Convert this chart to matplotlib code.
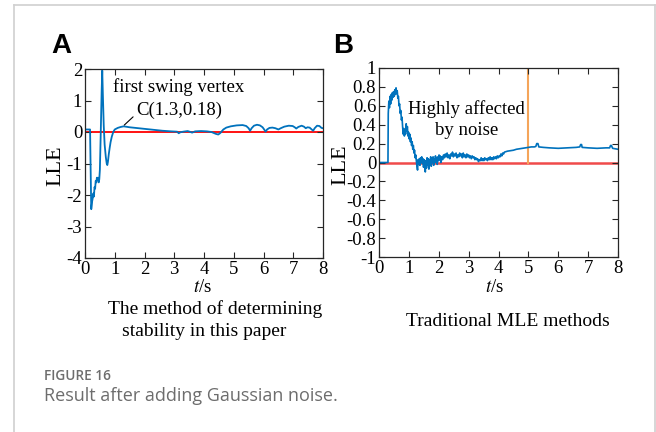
import matplotlib
matplotlib.use("Agg")
import matplotlib.pyplot as plt
from matplotlib.lines import Line2D

# ---- Panel A: proposed stability criterion (LLE vs time) ----
t_a = [0.00, 0.17, 0.19, 0.21, 0.24, 0.26, 0.28, 0.30, 0.32, 0.34, 0.36, 0.38,
       0.40, 0.42, 0.44, 0.46, 0.48, 0.50, 0.53, 0.56, 0.58, 0.60, 0.63, 0.66,
       0.70, 0.73, 0.75, 0.77, 0.80, 0.83, 0.86, 0.90, 0.95, 1.00, 1.10, 1.20,
       1.30, 1.50, 1.70, 2.00, 2.30, 2.60, 2.90, 3.10, 3.15, 3.20, 3.30, 3.45,
       3.55, 3.60, 3.70, 3.90, 4.10, 4.25, 4.40, 4.48, 4.55, 4.65, 4.75, 4.90,
       5.10, 5.30, 5.42, 5.50, 5.55, 5.60, 5.68, 5.78, 5.88, 5.97, 6.03, 6.07,
       6.12, 6.20, 6.30, 6.40, 6.50, 6.58, 6.70, 6.85, 6.98, 7.05, 7.10, 7.17,
       7.28, 7.36, 7.42, 7.48, 7.55, 7.62, 7.67, 7.72, 7.80, 7.88, 7.95, 8.00]
lle_a = [0.08, 0.08, -1.20, -2.45, -2.20, -2.10, -1.95, -2.05, -1.75, -1.80, -1.55, -1.60,
         -1.45, -1.50, -1.45, -1.60, -1.50, -1.20, 0.00, 1.30, 1.95, 1.20, 0.20, -0.40,
         -0.80, -1.00, -1.05, -0.95, -0.70, -0.50, -0.32, -0.15, 0.00, 0.08, 0.13, 0.16,
         0.18, 0.15, 0.13, 0.10, 0.07, 0.04, 0.02, 0.01, -0.04, -0.01, 0.01, 0.03,
         0.00, -0.02, 0.02, 0.03, 0.02, 0.00, -0.06, -0.08, -0.03, 0.08, 0.14, 0.18,
         0.21, 0.22, 0.19, 0.12, 0.04, 0.12, 0.20, 0.23, 0.21, 0.15, 0.07, 0.01,
         0.08, 0.13, 0.14, 0.12, 0.08, 0.12, 0.17, 0.20, 0.19, 0.15, 0.11, 0.16,
         0.20, 0.17, 0.12, 0.15, 0.14, 0.08, 0.04, 0.12, 0.20, 0.19, 0.13, 0.12]

# ---- Panel B: traditional maximum Lyapunov exponent ----
t_b = [0.00, 0.30, 0.31, 0.33, 0.35, 0.37, 0.39, 0.41, 0.43, 0.45, 0.47, 0.49,
       0.51, 0.53, 0.55, 0.57, 0.59, 0.61, 0.63, 0.65, 0.67, 0.69, 0.71, 0.73,
       0.75, 0.77, 0.79, 0.81, 0.83, 0.85, 0.87, 0.89, 0.91, 0.93, 0.95, 0.97,
       0.99, 1.01, 1.03, 1.05, 1.07, 1.09, 1.11, 1.13, 1.15, 1.17, 1.19, 1.21,
       1.23, 1.25, 1.27, 1.29, 1.31, 1.33, 1.35, 1.37, 1.39, 1.41, 1.43, 1.45,
       1.47, 1.49, 1.51, 1.53, 1.55, 1.57, 1.59, 1.61, 1.63, 1.65, 1.67, 1.69,
       1.71, 1.73, 1.75, 1.77, 1.79, 1.81, 1.83, 1.85, 1.87, 1.89, 1.91, 1.93,
       1.95, 1.97, 1.99, 2.01, 2.03, 2.05, 2.07, 2.10, 2.13, 2.16, 2.19, 2.22,
       2.25, 2.28, 2.31, 2.34, 2.37, 2.40, 2.43, 2.46, 2.49, 2.52, 2.55, 2.58,
       2.61, 2.64, 2.67, 2.70, 2.73, 2.76, 2.79, 2.82, 2.85, 2.88, 2.91, 2.94,
       2.97, 3.00, 3.03, 3.06, 3.09, 3.12, 3.15, 3.18, 3.21, 3.24, 3.27, 3.30,
       3.33, 3.36, 3.39, 3.42, 3.45, 3.48, 3.51, 3.54, 3.57, 3.60, 3.63, 3.66,
       3.69, 3.72, 3.75, 3.78, 3.81, 3.84, 3.87, 3.90, 3.93, 3.96, 3.99, 4.02,
       4.05, 4.08, 4.11, 4.14, 4.17, 4.20, 4.30, 4.40, 4.50, 4.60, 4.70, 4.80,
       4.90, 5.00, 5.10, 5.20, 5.25, 5.28, 5.32, 5.35, 5.50, 5.70, 6.00, 6.30,
       6.60, 6.72, 6.75, 6.78, 6.80, 7.00, 7.30, 7.60, 7.72, 7.75, 7.78, 7.82,
       8.00]
lle_b = [0.00, 0.00, 0.52, 0.65, 0.58, 0.70, 0.62, 0.72, 0.66, 0.74, 0.69, 0.75,
         0.70, 0.77, 0.72, 0.79, 0.73, 0.76, 0.68, 0.70, 0.60, 0.62, 0.52, 0.55,
         0.45, 0.48, 0.38, 0.30, 0.36, 0.28, 0.34, 0.30, 0.41, 0.33, 0.38, 0.28,
         0.32, 0.25, 0.30, 0.22, 0.26, 0.18, 0.22, 0.14, 0.18, 0.10, 0.13, 0.05,
         0.08, 0.02, -0.04, -0.08, 0.03, -0.02, 0.04, -0.03, 0.05, 0.00, 0.06, -0.01,
         0.04, -0.05, 0.03, -0.02, -0.10, 0.02, -0.06, 0.05, -0.03, 0.04, -0.07, 0.03,
         -0.02, 0.06, -0.04, 0.05, 0.00, 0.06, -0.03, 0.04, 0.00, 0.07, 0.01, 0.05,
         -0.02, 0.06, 0.02, 0.08, 0.03, 0.07, 0.00, 0.06, 0.03, 0.08, 0.05, 0.09,
         0.06, 0.10, 0.05, 0.08, 0.04, 0.09, 0.07, 0.11, 0.06, 0.09, 0.07, 0.10,
         0.05, 0.08, 0.06, 0.10, 0.07, 0.09, 0.05, 0.10, 0.06, 0.08, 0.05, 0.09,
         0.06, 0.08, 0.05, 0.07, 0.04, 0.07, 0.05, 0.06, 0.03, 0.05, 0.03, 0.04,
         0.01, 0.03, 0.02, 0.05, 0.02, 0.04, 0.02, 0.05, 0.03, 0.04, 0.02, 0.05,
         0.03, 0.06, 0.03, 0.05, 0.03, 0.06, 0.04, 0.06, 0.04, 0.07, 0.05, 0.07,
         0.06, 0.09, 0.07, 0.10, 0.09, 0.11, 0.12, 0.125, 0.13, 0.14, 0.145, 0.15,
         0.155, 0.16, 0.165, 0.165, 0.17, 0.20, 0.20, 0.165, 0.16, 0.155, 0.15, 0.155,
         0.16, 0.165, 0.19, 0.19, 0.16, 0.155, 0.15, 0.155, 0.155, 0.18, 0.18, 0.15,
         0.14]

xticks = [0, 1, 2, 3, 4, 5, 6, 7, 8]
yticks_a = [-4, -3, -2, -1, 0, 1, 2]
yticks_b = [-1, -0.8, -0.6, -0.4, -0.2, 0, 0.2, 0.4, 0.6, 0.8, 1]
ylabels_b = ["-1", "-0.8", "-0.6", "-0.4", "-0.2", "0", "0.2", "0.4", "0.6", "0.8", "1"]
t_boundary = 5.0
vertex = (1.3, 0.18)

BLUE = "#0072BD"
SERIF = "Liberation Serif"
TICK_FS = 13.5

fig = plt.figure(figsize=(6.56, 4.32), dpi=100)
fig.patch.set_facecolor("white")


def style_axes(ax):
    ax.tick_params(direction="in", top=True, right=True, length=4, width=0.8,
                   labelsize=TICK_FS, colors="#262626", pad=2)
    for lab in ax.get_xticklabels() + ax.get_yticklabels():
        lab.set_fontfamily(SERIF)
        lab.set_color("black")
    for sp in ax.spines.values():
        sp.set_linewidth(0.9)
        sp.set_color("#262626")


# Panel A
axA = fig.add_axes([85 / 656, 1 - 258 / 432, 238 / 656, 189 / 432])
axA.axhline(0, color="#ff0000", lw=1.3, zorder=1)
axA.plot(t_a, lle_a, color=BLUE, lw=1.3, zorder=2)
axA.set_xlim(0, 8)
axA.set_ylim(-4, 2)
axA.set_xticks(xticks)
axA.set_yticks(yticks_a)
axA.set_yticklabels([str(v) for v in yticks_a])
style_axes(axA)
axA.text(0.94, 1.43, "first swing vertex", family=SERIF, fontsize=13.5,
         ha="left", va="center")
axA.annotate("C(1.3,0.18)", xy=(vertex[0] + 0.02, vertex[1] + 0.04),
             xytext=(1.71, 0.70), family=SERIF, fontsize=13.5,
             ha="left", va="center",
             arrowprops=dict(arrowstyle="-", color="black", lw=0.8,
                             shrinkA=0, shrinkB=0,
                             relpos=(0.0, 0.25)))

# Panel B
axB = fig.add_axes([379 / 656, 1 - 257 / 432, 239 / 656, 189 / 432])
axB.axhline(0, color="#f04a4a", lw=1.8, zorder=1)
axB.plot([t_boundary, t_boundary], [0, 1], color="#f5a55a", lw=1.5, zorder=1)
axB.plot(t_b, lle_b, color=BLUE, lw=1.2, zorder=2)
axB.set_xlim(0, 8)
axB.set_ylim(-1, 1)
axB.set_xticks(xticks)
axB.set_yticks(yticks_b)
axB.set_yticklabels(ylabels_b)
style_axes(axB)
axB.text(2.94, 0.57, "Highly affected", family=SERIF, fontsize=13.5,
         ha="center", va="center")
axB.text(2.94, 0.34, "by noise", family=SERIF, fontsize=13.5,
         ha="center", va="center")

# axis labels placed in figure pixels
W, H = 656, 432


def ftext(x, y, s, **kw):
    fig.text(x / W, 1 - y / H, s, **kw)


ftext(56, 166, "LLE", family=SERIF, fontsize=16, rotation=90, ha="center", va="center")
ftext(341, 165, "LLE", family=SERIF, fontsize=16, rotation=90, ha="center", va="center")
ftext(203, 287, "$\\mathit{t}$/s", family=SERIF, fontsize=13.5, ha="center", va="center",
      math_fontfamily="stix")
ftext(495, 287, "$\\mathit{t}$/s", family=SERIF, fontsize=13.5, ha="center", va="center",
      math_fontfamily="stix")
ftext(215, 309, "The method of determining", family=SERIF, fontsize=14,
      ha="center", va="center")
ftext(204, 331, "stability in this paper", family=SERIF, fontsize=14,
      ha="center", va="center")
ftext(508, 321, "Traditional MLE methods", family=SERIF, fontsize=14,
      ha="center", va="center")

# panel letters
ftext(61, 46, "A", family="Liberation Sans", fontweight="bold", fontsize=20,
      ha="center", va="center")
ftext(343, 46, "B", family="Liberation Sans", fontweight="bold", fontsize=20,
      ha="center", va="center")

# caption
ftext(44, 376, "FIGURE 16", family="Open Sans", fontweight="semibold", fontsize=9.8,
      color="#6d6d6d", ha="left", va="center")
ftext(44, 396, "Result after adding Gaussian noise.", family="Open Sans", fontsize=13,
      color="#6d6d6d", ha="left", va="center")

# outer frame
frame_c = "#d0d0d0"
fig.add_artist(Line2D([13.5 / W, 13.5 / W], [0, 1 - 5 / H], color=frame_c, lw=1.2))
fig.add_artist(Line2D([13.5 / W, 655 / W], [1 - 5 / H, 1 - 5 / H], color=frame_c, lw=1.2))
fig.add_artist(Line2D([655 / W, 655 / W], [0, 1 - 5 / H], color=frame_c, lw=1.2))

fig.savefig("out.png", dpi=100)
